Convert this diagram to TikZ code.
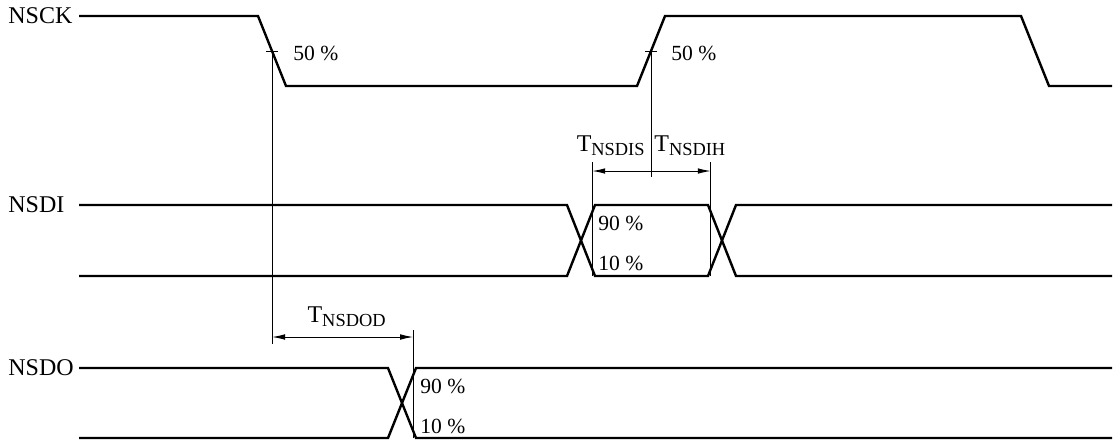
\documentclass[tikz,border=0pt]{standalone}
\usepackage{fontspec}
\setmainfont{Liberation Serif}
\usetikzlibrary{arrows.meta,positioning,calc}
\newcommand{\tparam}[1]{T\raisebox{-2.3pt}{\fontsize{9.2}{10}\selectfont #1}}

\begin{document}
\begin{tikzpicture}[x=0.5pt, y=-0.5pt,
            >={Latex[length=6.5pt,width=2.8pt]},  % arrow tips
            signal/.style={line width=1.2pt},   % signal traces
            guide/.style={line width=0.5pt},    % reference lines
            sname/.style={font=\fontsize{12}{14}\selectfont, anchor=west, inner sep=0pt},
            pct/.style={font=\fontsize{10.8}{12}\selectfont, anchor=west, inner sep=0pt},
            tlabel/.style={font=\fontsize{12}{14}\selectfont, inner sep=0pt}
        ]
        \useasboundingbox (0,0) rectangle (1114,441);

        % (1) NSCK clock
        \node[sname] (nsck) at (8,16) {NSCK};
        \coordinate (ckA) at (79,16);
        \coordinate (ckB) at (258,16);
        \coordinate (ckC) at (286,86);
        \coordinate (ckD) at (637,86);
        \coordinate (ckE) at (665,16);
        \coordinate (ckF) at (1021,16);
        \coordinate (ckG) at (1049,86);
        \coordinate (ckH) at (1112,86);
        \draw[signal] (ckA) -- (ckB) -- (ckC) -- (ckD) -- (ckE) -- (ckF) -- (ckG) -- (ckH);

        % 50 % marks on the clock edges
        \coordinate (fall) at ($(ckB)!0.5!(ckC)$);
        \coordinate (rise) at ($(ckD)!0.5!(ckE)$);
        \draw[guide] ($(fall)+(-6,0)$) -- ($(fall)+(6,0)$);
        \draw[guide] ($(rise)+(-6,0)$) -- ($(rise)+(6,0)$);
        \node[pct] (fallpct) at ($(fall)+(21,2)$) {50 \%};
        \node[pct] (risepct) at ($(rise)+(20,2)$) {50 \%};

        % (2) NSDI data in
        \node[sname] (nsdi) at (8,205) {NSDI};
        \coordinate (diHa) at (79,205);  \coordinate (diLa) at (79,276);
        \coordinate (diHb) at (567,205); \coordinate (diLb) at (567,276);
        \coordinate (diHc) at (595,205); \coordinate (diLc) at (595,276);
        \coordinate (diHd) at (708,205); \coordinate (diLd) at (708,276);
        \coordinate (diHe) at (736,205); \coordinate (diLe) at (736,276);
        \coordinate (diHf) at (1112,205); \coordinate (diLf) at (1112,276);
        \draw[signal] (diHa) -- (diHb) -- (diLc) -- (diLd) -- (diHe) -- (diHf);
        \draw[signal] (diLa) -- (diLb) -- (diHc) -- (diHd) -- (diLe) -- (diLf);
        \node[pct] (dihi) at (598,223) {90 \%};
        \node[pct] (dilo) at (598,263) {10 \%};

        % setup / hold
        \coordinate (disL) at ($(diLb)!0.9!(diHc)$);
        \coordinate (dihR) at ($(diHd)!0.1!(diLe)$);
        \draw[guide] (disL |- 0,162) -- (disL |- diLa);
        \draw[guide] (dihR |- 0,162) -- (dihR |- diLa);
        \draw[guide] (rise) -- (rise |- 0,177);
        \coordinate (dimid) at (rise |- 0,171);
        \draw[guide,->] (dimid) -- (disL |- dimid);
        \draw[guide,->] (dimid) -- (dihR |- dimid);
        \node[tlabel, anchor=base east] (tnsdis) at ($(dimid)+(-6,-20)$) {\tparam{NSDIS}};
        \node[tlabel, anchor=base west] (tnsdih) at ($(dimid)+(3,-20)$) {\tparam{NSDIH}};

        % (3) NSDO data out
        \node[sname] (nsdo) at (8,368) {NSDO};
        \coordinate (doHa) at (79,368);  \coordinate (doLa) at (79,438);
        \coordinate (doHb) at (388,368); \coordinate (doLb) at (388,438);
        \coordinate (doHc) at (416,368); \coordinate (doLc) at (416,438);
        \coordinate (doHd) at (1112,368); \coordinate (doLd) at (1112,438);
        \draw[signal] (doHa) -- (doHb) -- (doLc) -- (doLd);
        \draw[signal] (doLa) -- (doLb) -- (doHc) -- (doHd);
        \node[pct] (dohi) at (420,386) {90 \%};
        \node[pct] (dolo) at (420,426) {10 \%};

        % output delay
        \coordinate (dodR) at ($(doLb)!0.9!(doHc)$);
        \draw[guide] (fall) -- (fall |- 0,344);
        \draw[guide] (dodR |- 0,330) -- (dodR |- doLa);
        \coordinate (dodL) at (fall |- 0,337);
        \draw[guide,<->] (dodL) -- (dodR |- dodL);
        \node[tlabel, anchor=base] (tnsdod) at ($(dodL)!0.5!(dodR |- dodL)+(4,-15)$) {\tparam{NSDOD}};

\end{tikzpicture}
\end{document}
